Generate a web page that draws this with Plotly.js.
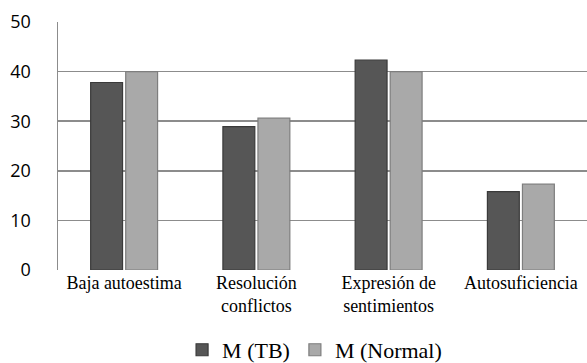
<!DOCTYPE html>
<html>
<head>
<meta charset="utf-8">
<script src="https://cdn.plot.ly/plotly-3.0.1.min.js"></script>
<style>html,body{margin:0;padding:0;background:#fff;overflow:hidden}</style>
</head>
<body>
<div id="chart" style="width:587px;height:363px"></div>
<script>
const categories = ["Baja autoestima", "Resolución<br>conflictos", "Expresión de<br>sentimientos", "Autosuficiencia"];
const seriesNames = ["M (TB)", "M (Normal)"];
const mTB = [37.8, 28.9, 42.3, 15.8];
const mNormal = [40.0, 30.6, 40.0, 17.3];
const yTicks = [0, 10, 20, 30, 40, 50];

const traces = [
  {type: "bar", name: seriesNames[0], x: categories, y: mTB,
   marker: {color: "#565656", line: {color: "#3a3a3a", width: 1.2}}},
  {type: "bar", name: seriesNames[1], x: categories, y: mNormal,
   marker: {color: "#a9a9a9", line: {color: "#7e7e7e", width: 1.2}}}
];

const layout = {
  width: 587, height: 363,
  margin: {l: 58, r: 0, t: 22, b: 93},
  paper_bgcolor: "#fff", plot_bgcolor: "#fff",
  barmode: "group", bargap: 0.47, bargroupgap: 0.09,
  showlegend: true,
  legend: {orientation: "h", xref: "paper", x: 0.485, xanchor: "center",
           yref: "container", y: 0.036, yanchor: "middle",
           font: {family: "Liberation Serif", size: 22, color: "#000"},
           itemwidth: 30, tracegroupgap: 0},
  xaxis: {type: "category", range: [-0.5, 3.5], showgrid: false, zeroline: false,
          showline: false, ticks: "", automargin: false,
          tickfont: {family: "Liberation Serif", size: 18, color: "#000"}},
  yaxis: {range: [0, 50], tickvals: yTicks, showgrid: true, gridcolor: "#8c8c8c", gridwidth: 1.5,
          zeroline: false, showline: true, linecolor: "#8c8c8c", linewidth: 1.5,
          ticks: "", ticklabelstandoff: 22, automargin: false,
          tickfont: {family: "Open Sans", size: 18, color: "#000"}}
};

Plotly.newPlot("chart", traces, layout, {displayModeBar: false, staticPlot: true});
</script>
</body>
</html>
